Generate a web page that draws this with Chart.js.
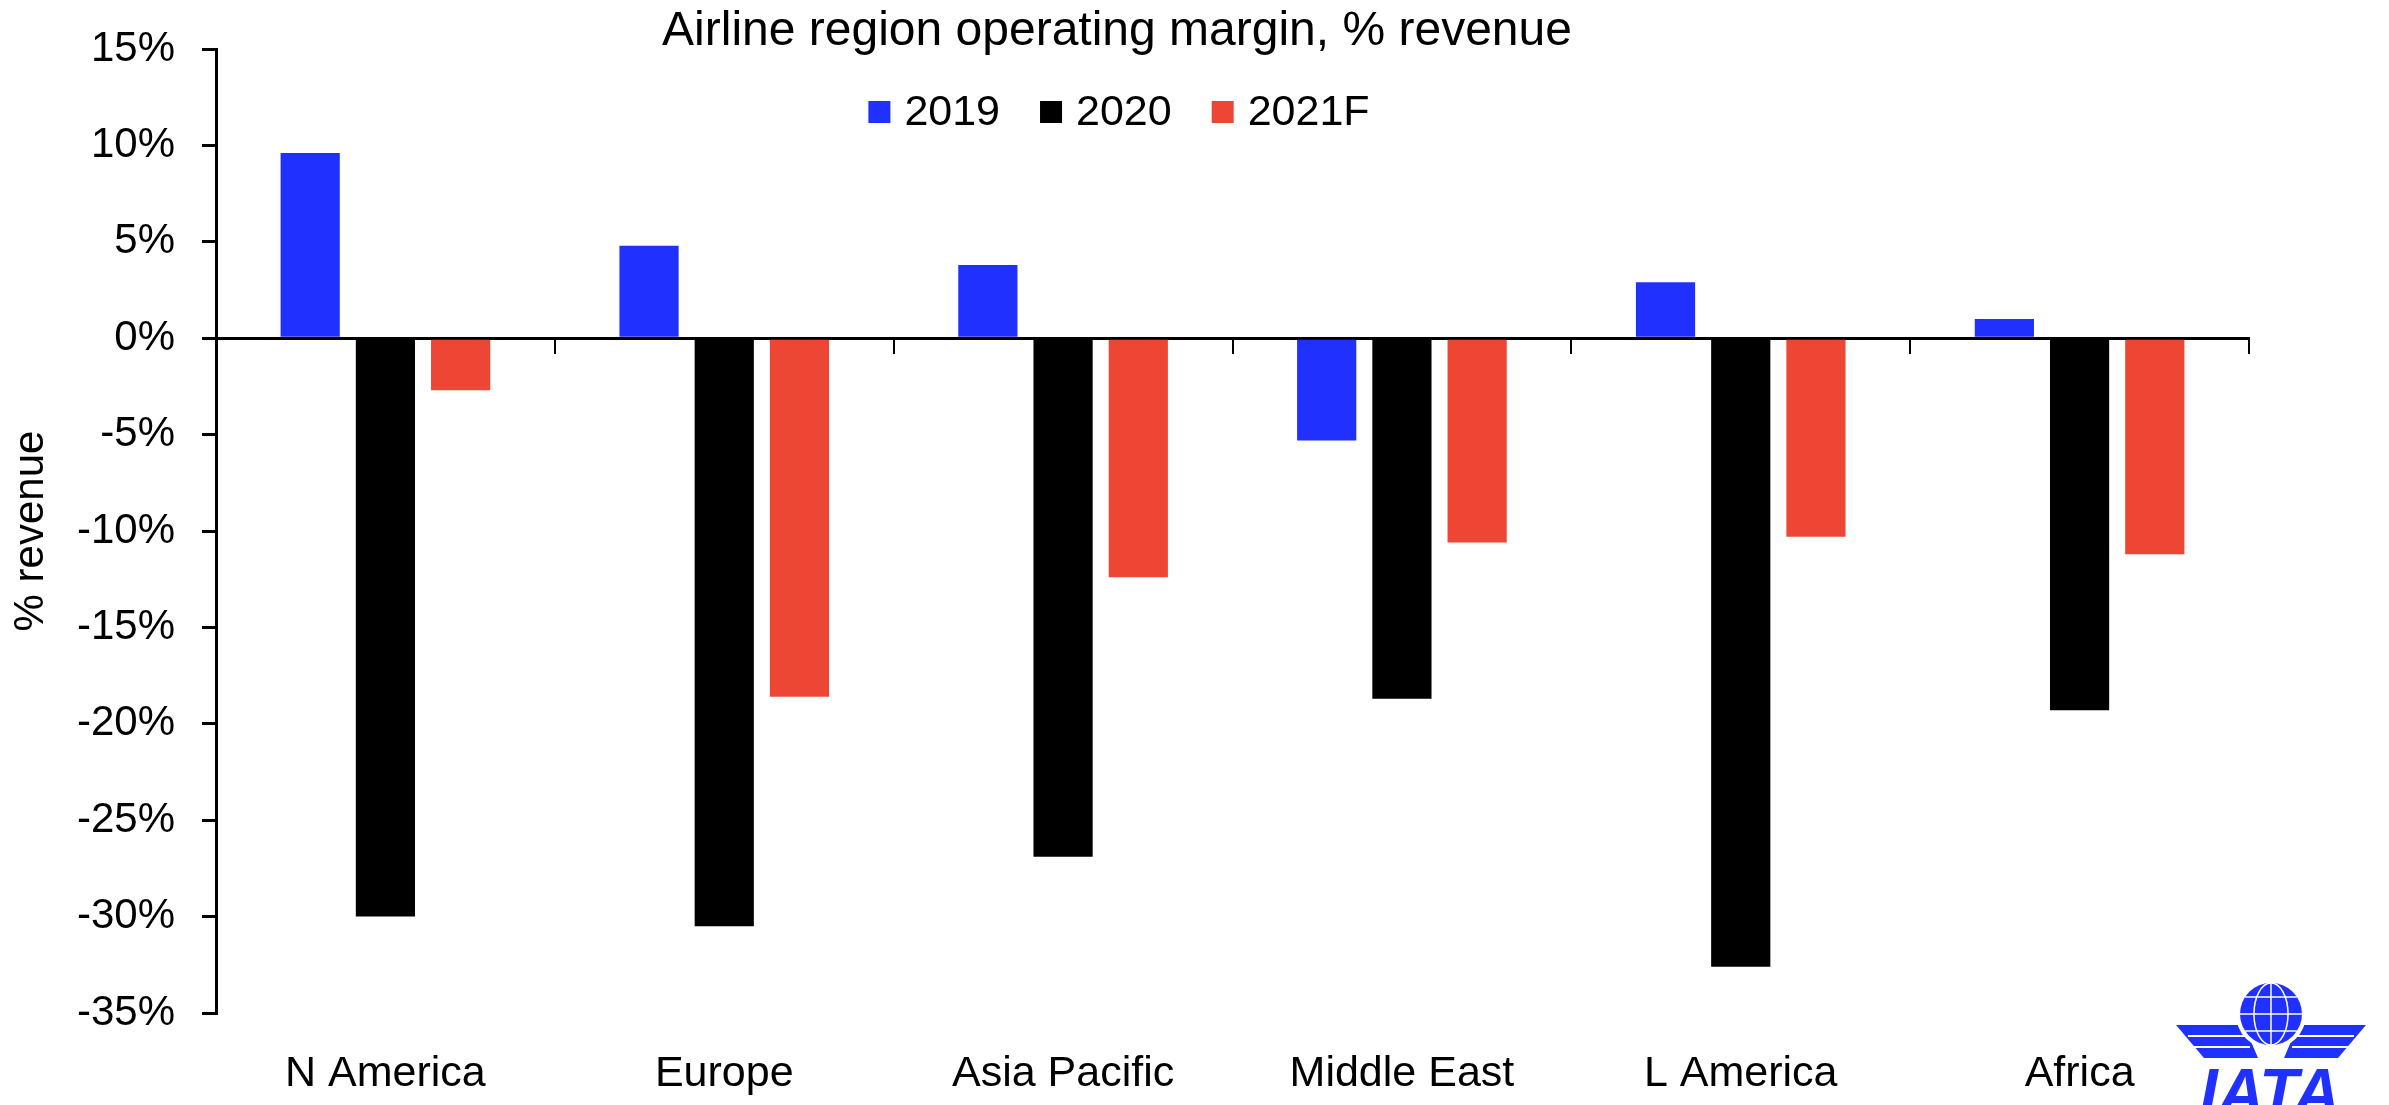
<!DOCTYPE html>
<html>
<head>
<meta charset="utf-8">
<title>Airline region operating margin</title>
<script src="https://cdn.jsdelivr.net/npm/chart.js@4.4.1/dist/chart.umd.min.js"></script>
<style>
    html, body { margin: 0; padding: 0; background: #ffffff; }
    #wrap { width: 2389px; height: 1105px; position: relative; }
</style>
</head>
<body>
<div id="wrap"><canvas id="marginChart"></canvas></div>
<script>
// Chart data
const regions = ['N America', 'Europe', 'Asia Pacific', 'Middle East', 'L America', 'Africa'];
const seriesNames = ['2019', '2020', '2021F'];
const margin2019 = [9.6, 4.8, 3.8, -5.3, 2.9, 1.0];
const margin2020 = [-30.0, -30.5, -26.9, -18.7, -32.6, -19.3];
const margin2021 = [-2.7, -18.6, -12.4, -10.6, -10.3, -11.2];
const yTicks = [15, 10, 5, 0, -5, -10, -15, -20, -25, -30, -35];

const FONT = "'Liberation Sans', Arial, sans-serif";
const BLUE = '#2030ff';
const RED = '#ee4634';

// Title, legend and logo drawn on top of the chart
const overlayPlugin = {
    id: 'overlay',
    afterDraw(chart) {
        const ctx = chart.ctx;
        ctx.save();

        // Title
        ctx.fillStyle = '#000';
        ctx.font = '48px ' + FONT;
        ctx.textAlign = 'center';
        ctx.textBaseline = 'middle';
        ctx.fillText('Airline region operating margin, % revenue', 1117, 32);

        // Legend
        ctx.font = '43px ' + FONT;
        ctx.textAlign = 'left';
        const box = 22, gap = 14, itemGap = 40;
        const items = chart.data.datasets.map(ds => ({
            label: ds.label, color: ds.backgroundColor,
            w: box + gap + ctx.measureText(ds.label).width
        }));
        const total = items.reduce((a, it) => a + it.w, 0) + itemGap * (items.length - 1);
        let x = 1119 - total / 2;
        const cy = 112;
        items.forEach(it => {
            ctx.fillStyle = it.color;
            ctx.fillRect(x, cy - box / 2, box, box);
            ctx.fillStyle = '#000';
            ctx.fillText(it.label, x + box + gap, cy + 1);
            x += it.w + itemGap;
        });

        // IATA logo (rough)
        const gx = 2271, gy = 1014, r = 31;
        ctx.fillStyle = BLUE;
        ctx.beginPath();
        ctx.moveTo(2176, 1025); ctx.lineTo(2244, 1025); ctx.lineTo(2258, 1058); ctx.lineTo(2204, 1058); ctx.closePath();
        ctx.fill();
        ctx.beginPath();
        ctx.moveTo(2366, 1025); ctx.lineTo(2298, 1025); ctx.lineTo(2284, 1058); ctx.lineTo(2338, 1058); ctx.closePath();
        ctx.fill();
        ctx.strokeStyle = '#fff';
        ctx.lineWidth = 2;
        [1036, 1047].forEach(ly => {
            ctx.beginPath(); ctx.moveTo(2188, ly); ctx.lineTo(2250, ly); ctx.stroke();
            ctx.beginPath(); ctx.moveTo(2292, ly); ctx.lineTo(2354, ly); ctx.stroke();
        });
        ctx.beginPath();
        ctx.arc(gx, gy, r + 4, 0, Math.PI * 2);
        ctx.fillStyle = '#fff';
        ctx.fill();
        ctx.beginPath();
        ctx.arc(gx, gy, r, 0, Math.PI * 2);
        ctx.fillStyle = BLUE;
        ctx.fill();
        ctx.lineWidth = 1.5;
        ctx.beginPath(); ctx.moveTo(gx, gy - r); ctx.lineTo(gx, gy + r); ctx.stroke();
        ctx.beginPath(); ctx.moveTo(gx - r, gy); ctx.lineTo(gx + r, gy); ctx.stroke();
        ctx.beginPath(); ctx.ellipse(gx, gy, r * 0.55, r, 0, 0, Math.PI * 2); ctx.stroke();
        [-0.55, 0.55].forEach(f => {
            const yy = gy + r * f, hw = Math.sqrt(1 - f * f) * r;
            ctx.beginPath(); ctx.moveTo(gx - hw, yy); ctx.lineTo(gx + hw, yy); ctx.stroke();
        });
        ctx.fillStyle = BLUE;
        ctx.font = 'italic bold 64px ' + FONT;
        ctx.textAlign = 'center';
        ctx.textBaseline = 'alphabetic';
        ctx.fillText('IATA', 2270, 1114);

        ctx.restore();
    }
};

document.addEventListener('DOMContentLoaded', function() {
    const ctx = document.getElementById('marginChart').getContext('2d');

    new Chart(ctx, {
        type: 'bar',
        data: {
            labels: regions,
            datasets: [
                { label: seriesNames[0], data: margin2019, backgroundColor: BLUE },
                { label: seriesNames[1], data: margin2020, backgroundColor: '#000000' },
                { label: seriesNames[2], data: margin2021, backgroundColor: RED }
            ]
        },
        options: {
            responsive: true,
            maintainAspectRatio: false,
            animation: false,
            categoryPercentage: 0.666,
            barPercentage: 0.787,
            layout: {
                padding: { top: 49, right: 140, bottom: 0, left: 0 }
            },
            plugins: {
                legend: { display: false },
                title: { display: false },
                tooltip: { enabled: false }
            },
            scales: {
                x: {
                    type: 'category',
                    position: { y: 0 },
                    offset: true,
                    afterFit: function(scale) {
                        scale.height = 0;
                    },
                    grid: {
                        offset: true,
                        drawOnChartArea: false,
                        drawTicks: true,
                        tickLength: 14,
                        color: '#000',
                        lineWidth: 2
                    },
                    border: { display: true, color: '#000', width: 3 },
                    ticks: { display: false }
                },
                xLabels: {
                    type: 'category',
                    labels: regions,
                    position: 'bottom',
                    offset: true,
                    afterFit: function(scale) {
                        scale.height = 92;
                    },
                    grid: { display: false },
                    border: { display: false },
                    ticks: {
                        padding: 27,
                        color: '#000',
                        font: { family: FONT, size: 43 }
                    }
                },
                y: {
                    min: yTicks[yTicks.length - 1],
                    max: yTicks[0],
                    afterBuildTicks: function(scale) {
                        scale.ticks = yTicks.map(v => ({ value: v }));
                    },
                    afterFit: function(scale) {
                        scale.width = 216;
                        scale.paddingTop = 0;
                        scale.paddingBottom = 0;
                    },
                    grid: {
                        drawOnChartArea: false,
                        drawTicks: true,
                        tickLength: 14,
                        color: '#000',
                        lineWidth: 3
                    },
                    border: { display: true, color: '#000', width: 3 },
                    ticks: {
                        padding: 27,
                        color: '#000',
                        font: { family: FONT, size: 42 },
                        callback: function(value) {
                            return value + '%';
                        }
                    },
                    title: {
                        display: true,
                        text: '% revenue',
                        color: '#000',
                        padding: { top: 6, bottom: 0 },
                        font: { family: FONT, size: 42 }
                    }
                }
            }
        },
        plugins: [overlayPlugin]
    });
});
</script>
</body>
</html>
